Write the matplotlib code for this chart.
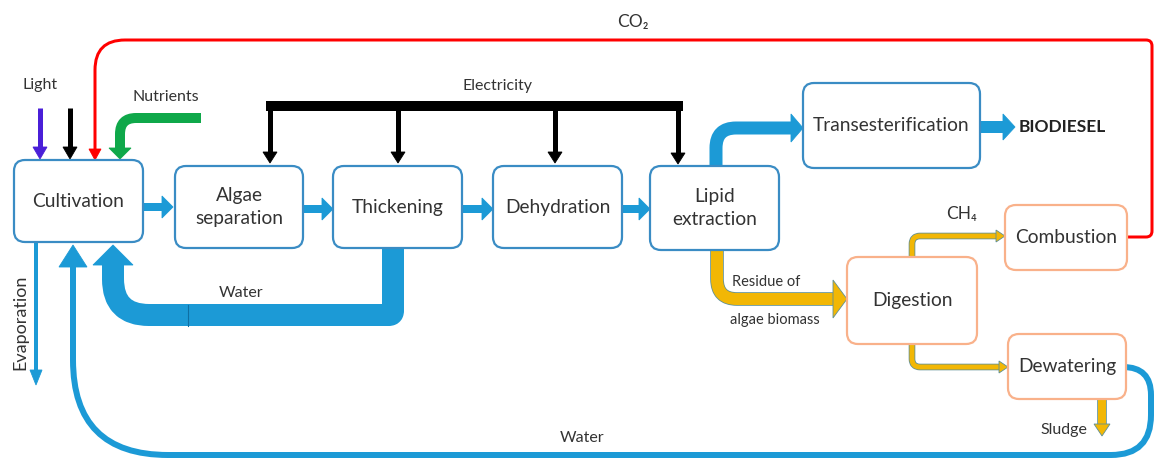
import numpy as np
import matplotlib
matplotlib.use("Agg")
import matplotlib.pyplot as plt
from matplotlib.path import Path
from matplotlib.patches import PathPatch, FancyBboxPatch, Polygon

plt.rcParams['font.family'] = ['Lato', 'DejaVu Sans']

# process steps (text) and their boxes (left, top, right, bottom in px)
box_labels = ["Cultivation", "Algae\nseparation", "Thickening", "Dehydration",
              "Lipid\nextraction", "Transesterification",
              "Digestion", "Combustion", "Dewatering"]
box_kind = ["main", "main", "main", "main", "main", "main", "bio", "bio", "bio"]
box_geom = [(14, 160, 143, 242), (175, 166, 303, 248), (333, 166, 462, 248),
            (493, 166, 622, 248), (650, 166, 779, 250), (803, 83, 980, 168),
            (847, 257, 977, 344), (1005, 205, 1127, 270), (1008, 334, 1126, 399)]

flow_labels = ["Light", "Nutrients", "Electricity", "Water", "Water",
               "Residue of", "algae biomass", "Sludge", "CO\u2082", "CH\u2084"]
flow_label_pos = [(40, 85), (166, 97), (497, 86), (241, 293), (582, 438),
                  (766, 282), (775, 320), (1064, 430), (633, 22), (962, 214)]
flow_label_size = [11.5, 11.5, 11.5, 11.5, 11.5, 10.5, 10.5, 11.5, 12.5, 12.5]

BLUE = '#1c9ad6'
EDGE_BLUE = '#3a8cc4'
EDGE_ORANGE = '#f9b18a'
YELLOW = '#f2b705'
RED = '#ff0000'
GREEN = '#0fa84a'
PURPLE = '#4a1fd8'
TXT = '#333333'


def rounded(pts, radii):
    if np.isscalar(radii):
        radii = [radii] * (len(pts) - 2)
    pts = [np.array(p, float) for p in pts]
    verts = [pts[0]]
    codes = [Path.MOVETO]
    for i in range(1, len(pts) - 1):
        p, a, b = pts[i], pts[i - 1], pts[i + 1]
        u1 = (p - a) / np.linalg.norm(p - a)
        u2 = (b - p) / np.linalg.norm(b - p)
        r = radii[i - 1]
        verts += [p - r * u1, p, p + r * u2]
        codes += [Path.LINETO, Path.CURVE3, Path.CURVE3]
    verts.append(pts[-1])
    codes.append(Path.LINETO)
    return Path(verts, codes)


def pipe(ax, pts, width, color, radii=0, outline=None):
    path = rounded(pts, radii)
    if outline:
        ax.add_patch(PathPatch(path, fill=False, ec=outline, lw=(width + 1.6) * 0.72,
                               capstyle='butt', joinstyle='round'))
    ax.add_patch(PathPatch(path, fill=False, ec=color, lw=width * 0.72,
                           capstyle='butt', joinstyle='round'))


def head(ax, tip, direction, half, length, color, outline=None):
    d = np.array(direction, float)
    d = d / np.linalg.norm(d)
    n = np.array([-d[1], d[0]])
    tip = np.array(tip, float)
    base = tip - d * length
    poly = [tip, base + n * half, base - n * half]
    ax.add_patch(Polygon(poly, closed=True, fc=color,
                         ec=outline if outline else color, lw=0.6))


def arrow(ax, pts, width, color, half, length, radii=0, outline=None):
    pts = [np.array(p, float) for p in pts]
    d = pts[-1] - pts[-2]
    d = d / np.linalg.norm(d)
    shaft = pts[:-1] + [pts[-1] - d * (length - 1)]
    pipe(ax, shaft, width, color, radii, outline)
    head(ax, pts[-1], d, half, length, color, outline)


fig = plt.figure(figsize=(11.55, 4.61), dpi=100)
ax = fig.add_axes([0, 0, 1, 1])
ax.set_xlim(0, 1155)
ax.set_ylim(461, 0)
ax.axis('off')

# CO2 return line
arrow(ax, [(1127, 237), (1152, 237), (1152, 40), (95, 40), (95, 160)], 3, RED, 6, 11,
      radii=[6, 6, 30])

# light, black input, nutrients
arrow(ax, [(40, 108), (40, 159)], 5, PURPLE, 7, 12)
arrow(ax, [(70, 108), (70, 159)], 5, 'black', 7, 12)
arrow(ax, [(201, 118), (120, 118), (120, 159)], 10, GREEN, 11, 11, radii=16)

# electricity
pipe(ax, [(266, 106), (683, 106)], 10, 'black')
for xe, ye in [(270, 163), (398, 163), (555, 163), (678, 164)]:
    arrow(ax, [(xe, 106), (xe, ye)], 5, 'black', 7, 11)

# main chain
arrow(ax, [(143, 207), (173, 207)], 8, BLUE, 11, 11)
arrow(ax, [(303, 209), (333, 209)], 8, BLUE, 11, 11)
arrow(ax, [(462, 209), (493, 209)], 8, BLUE, 11, 11)
arrow(ax, [(622, 209), (650, 209)], 8, BLUE, 11, 11)
arrow(ax, [(716, 167), (716, 128), (803, 128)], 13, BLUE, 14, 12, radii=20)
arrow(ax, [(980, 127), (1015, 127)], 12, BLUE, 13, 12)
ax.text(1019, 127, "BIODIESEL", ha='left', va='center', fontsize=12.5,
        fontweight='bold', color='#222222')

# water from thickening
arrow(ax, [(393, 248), (393, 315), (113, 315), (113, 245)], 22, BLUE, 20, 20, radii=[4, 36])
ax.plot([188, 188], [305, 326], color='#0e6fa3', lw=0.8)

# evaporation
arrow(ax, [(36, 242), (36, 385)], 4, BLUE, 6, 15)
ax.text(20, 322, "Evaporation", rotation=90, ha='center', va='center',
        fontsize=13, color=TXT)

# long water loop from dewatering
arrow(ax, [(1126, 367), (1151, 367), (1151, 455), (73, 455), (73, 245)], 6, BLUE, 14, 22,
      radii=[28, 40, 95])

# digestion side
arrow(ax, [(717, 250), (717, 299), (847, 299)], 12, YELLOW, 19, 14, radii=20,
      outline='#5e8f96')
arrow(ax, [(912, 257), (912, 236), (1005, 236)], 5, YELLOW, 6, 9, radii=8,
      outline='#5e8f96')
arrow(ax, [(912, 344), (912, 367), (1008, 367)], 5, YELLOW, 6, 9, radii=8,
      outline='#5e8f96')
arrow(ax, [(1102, 399), (1102, 436)], 8, YELLOW, 8, 12, outline='#5e8f96')

# boxes
for label, kind, (x0, y0, x1, y1) in zip(box_labels, box_kind, box_geom):
    ec = EDGE_BLUE if kind == "main" else EDGE_ORANGE
    ax.add_patch(FancyBboxPatch((x0, y0), x1 - x0, y1 - y0,
                                boxstyle="round,pad=0,rounding_size=11",
                                fc='white', ec=ec, lw=1.6, zorder=3))
    ax.text((x0 + x1) / 2, (y0 + y1) / 2, label, ha='center', va='center',
            fontsize=13.8, color=TXT, linespacing=1.4, zorder=4)

for label, (lx, ly), fs in zip(flow_labels, flow_label_pos, flow_label_size):
    ax.text(lx, ly, label, ha='center', va='center', fontsize=fs, color=TXT)

fig.savefig("out.png", dpi=100)
